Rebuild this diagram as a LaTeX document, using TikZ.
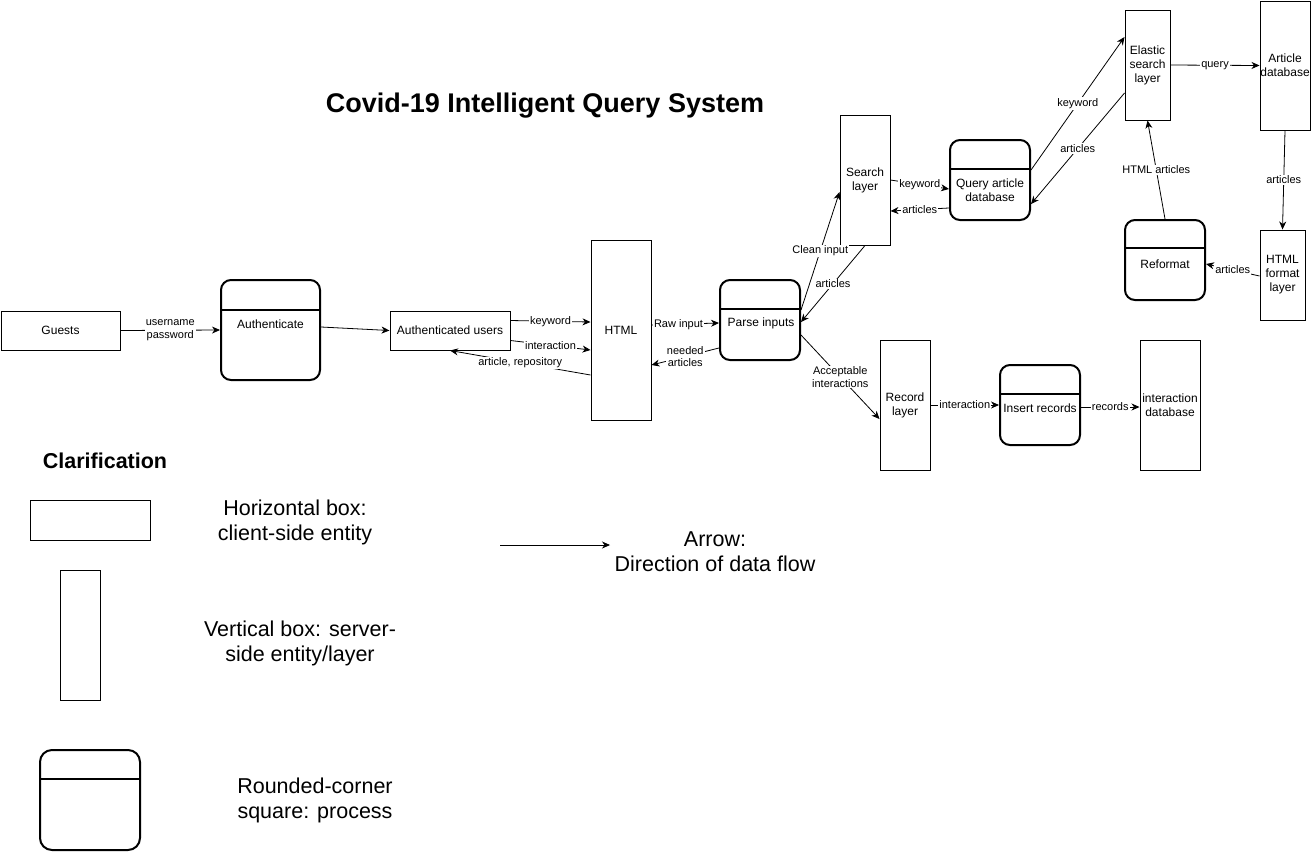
\documentclass[tikz,border=0pt]{standalone}
\usepackage{fontspec}
\setmainfont{Liberation Sans}
\usetikzlibrary{arrows.meta}
\begin{document}
\begin{tikzpicture}[x=1pt,y=-1pt,
  box/.style={draw, line width=1pt, inner sep=0pt, align=center, font=\fontsize{12}{14}\selectfont},
  proc/.style={draw, line width=2pt, rounded corners=10pt, inner sep=0pt},
  procline/.style={line width=2pt},
  ptext/.style={anchor=center, align=center, inner sep=0pt, font=\fontsize{12}{14}\selectfont},
  arr/.style={line width=0.8pt, -{Stealth[length=8pt,width=7pt,inset=2.5pt]}},
  lbl/.style={fill=white, inner sep=1pt, align=center, font=\fontsize{11}{12.5}\selectfont},
  legtext/.style={align=center, inner sep=0pt, font=\fontsize{21.5}{25}\selectfont}]
\useasboundingbox (0,0) rectangle (1311,852);

% title
\node[font=\fontsize{27}{30}\selectfont\bfseries, inner sep=0pt] (title) at (545,106) {Covid-19 Intelligent Query System};

% client-side boxes
\node[box, minimum width=119, minimum height=39] (guests) at (60.5,330.5) {Guests};
\node[box, minimum width=120, minimum height=39] (authu) at (450,330.5) {Authenticated users};

% server-side boxes
\node[box, minimum width=60, minimum height=180] (html) at (621,330) {HTML};
\node[box, minimum width=50, minimum height=130] (search) at (865,180) {Search\\layer};
\node[box, minimum width=45, minimum height=110] (elastic) at (1147.5,65) {Elastic\\search\\layer};
\node[box, minimum width=50, minimum height=129] (artdb) at (1285,65.5) {Article\\database};
\node[box, minimum width=45, minimum height=90] (htmlfmt) at (1282.5,275) {HTML\\format\\layer};
\node[box, minimum width=50, minimum height=130] (record) at (905,405) {Record\\layer};
\node[box, minimum width=60, minimum height=130] (intdb) at (1170,405) {interaction\\database};

% processes
\node[proc, minimum width=99, minimum height=100] (auth) at (270.5,330) {};
\draw[procline] ([yshift=-31pt]auth.north west) -- ([yshift=-31pt]auth.north east);
\node[ptext] (authT) at (270.5,324) {Authenticate};

\node[proc, minimum width=80, minimum height=80] (parse) at (760,320) {};
\draw[procline] ([yshift=-30pt]parse.north west) -- ([yshift=-30pt]parse.north east);
\node[ptext] (parseT) at (761,323) {Parse inputs};

\node[proc, minimum width=80, minimum height=80] (query) at (990,180) {};
\draw[procline] ([yshift=-30pt]query.north west) -- ([yshift=-30pt]query.north east);
\node[ptext] (queryT) at (990,190) {Query article\\database};

\node[proc, minimum width=80, minimum height=80] (reformat) at (1165,260) {};
\draw[procline] ([yshift=-29pt]reformat.north west) -- ([yshift=-29pt]reformat.north east);
\node[ptext] (reformatT) at (1165,264) {Reformat};

\node[proc, minimum width=80, minimum height=80] (insert) at (1040,405) {};
\draw[procline] ([yshift=-30pt]insert.north west) -- ([yshift=-30pt]insert.north east);
\node[ptext] (insertT) at (1040,408) {Insert records};

% connectors
\draw[arr] (guests.east) -- node[lbl] {username\\password} (auth.west);
\draw[arr] ([yshift=3pt]auth.east) -- (authu.west);
\draw[arr] ([yshift=10pt]authu.east) -- node[lbl] {keyword} ([yshift=8pt]html.west);
\draw[arr] ([yshift=-10pt]authu.east) -- node[lbl] {interaction} ([yshift=-20pt]html.west);
\draw[arr] ([yshift=-45pt]html.west) -- node[lbl] {article, repository} (authu.south);
\draw[arr] ([yshift=5pt]html.east) -- node[lbl, pos=0.4] {Raw input} ([yshift=-3pt]parse.west);
\draw[arr] ([yshift=-28pt]parse.west) -- node[lbl] {needed\\articles} ([yshift=-35pt]html.east);
\draw[arr] ([yshift=10pt]parse.east) -- node[lbl] {Clean input} ([yshift=-12pt]search.west);
\draw[arr] (search.south) -- node[lbl] {articles} ([yshift=-2pt]parse.east);
\draw[arr] (search.east) -- node[lbl] {keyword} ([yshift=-9pt]query.west);
\draw[arr] ([yshift=-28pt]query.west) -- node[lbl] {articles} ([yshift=-31pt]search.east);
\draw[arr] ([yshift=10pt]query.east) -- node[lbl] {keyword} ([yshift=28pt]elastic.west);
\draw[arr] ([yshift=-28pt]elastic.west) -- node[lbl] {articles} ([yshift=-24pt]query.east);
\draw[arr] (elastic.east) -- node[lbl] {query} (artdb.west);
\draw[arr] (artdb.south) -- node[lbl] {articles} (htmlfmt.north);
\draw[arr] ([yshift=-1pt]htmlfmt.west) -- node[lbl] {articles} ([yshift=-4pt]reformat.east);
\draw[arr] (reformat.north) -- node[lbl] {HTML articles} (elastic.south);
\draw[arr] ([yshift=-15pt]parse.east) -- node[lbl] {Acceptable\\interactions} ([yshift=-14pt]record.west);
\draw[arr] (record.east) -- node[lbl] {interaction} (insert.west);
\draw[arr] ([yshift=-2pt]insert.east) -- node[lbl] {records} ([yshift=-2pt]intdb.west);

% legend
\node[font=\fontsize{21.5}{25}\selectfont\bfseries, inner sep=0pt] (clar) at (105,461) {Clarification};
\node[box, minimum width=120, minimum height=40] (legH) at (90,520) {};
\node[box, minimum width=40, minimum height=130] (legV) at (80,635) {};
\node[proc, minimum width=100, minimum height=100, rounded corners=12pt] (legP) at (90,800) {};
\draw[procline] ([yshift=-30pt]legP.north west) -- ([yshift=-30pt]legP.north east);
\coordinate (la1) at (500,545);
\coordinate (la2) at (610,545);
\draw[arr] (la1) -- (la2);
\node[legtext] (legHT) at (295,522) {Horizontal box:\\client-side entity};
\node[legtext] (legVT) at (300,643) {Vertical box: server-\\side entity/layer};
\node[legtext] (legAT) at (715,552) {Arrow:\\Direction of data flow};
\node[legtext] (legPT) at (315,800) {Rounded-corner\\square: process};
\end{tikzpicture}
\end{document}
